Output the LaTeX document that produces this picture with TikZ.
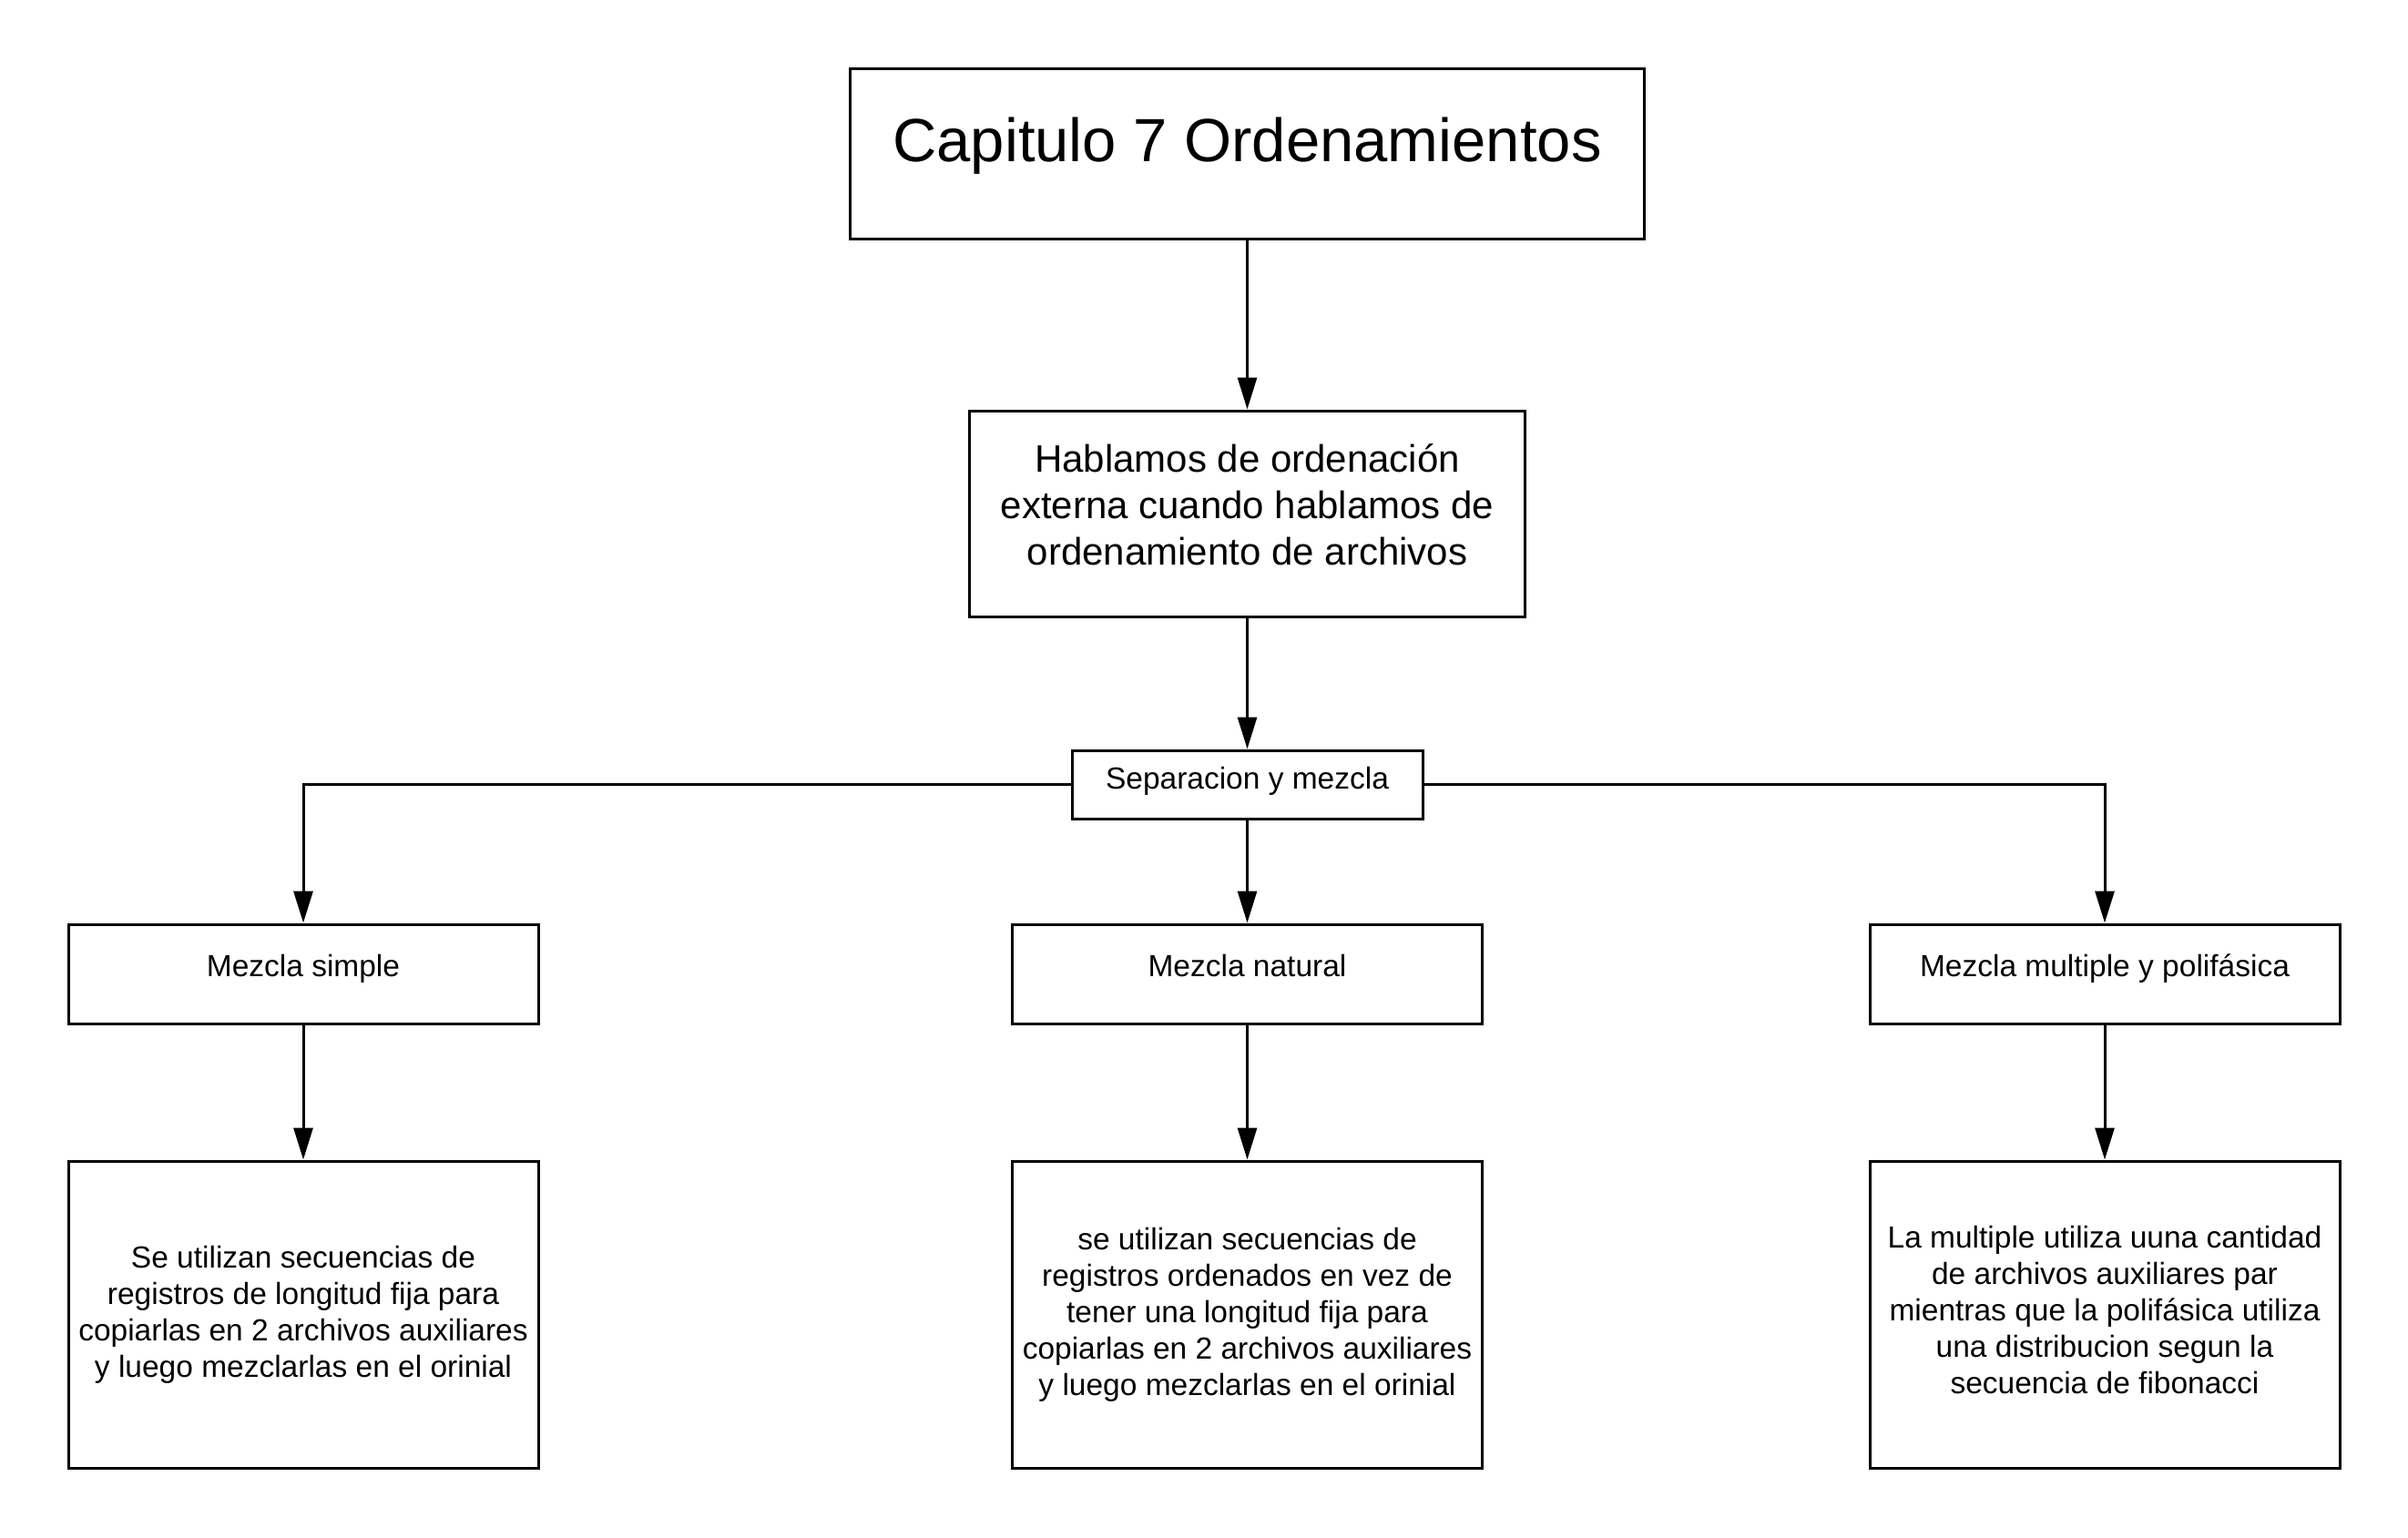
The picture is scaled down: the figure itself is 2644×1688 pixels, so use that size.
\documentclass[tikz,border=0pt]{standalone}
\usepackage{fontspec}
\setmainfont{Liberation Sans}
\usetikzlibrary{arrows.meta}
\begin{document}
\begin{tikzpicture}[x=0.5pt,y=-0.5pt,
  box/.style={draw=black,line width=1.5pt,fill=white,inner sep=0pt,align=center,text=black},
  oneline/.style={text height=0.75em,text depth=0.42em},
  titlefont/.style={font=\fontsize{33.5}{40}\selectfont},
  midfont/.style={font=\fontsize{21}{25.4}\selectfont},
  smallfont/.style={font=\fontsize{16.75}{20}\selectfont},
  arr/.style={draw=black,line width=1.5pt,-{Triangle[length=17.5pt,width=10.5pt]}}
]
\fill[white] (0,0) rectangle (2644,1688);
\useasboundingbox (0,0) rectangle (2644,1688);

\node[box,text height=0.85em,text depth=0em,titlefont,minimum width=436pt,minimum height=93.5pt] (T) at (1369.5,168.5) {Capitulo 7 Ordenamientos};
\node[box,midfont,minimum width=305pt,minimum height=113pt] (H) at (1369.5,564) {Hablamos de ordenación\\externa cuando hablamos de\\ordenamiento de archivos\\[-15.4pt]\mbox{}};
\node[box,oneline,text depth=0.22em,smallfont,minimum width=192.5pt,minimum height=37.5pt] (S) at (1369.5,861.5) {Separacion y mezcla};

\node[box,oneline,smallfont,minimum width=258pt,minimum height=54.5pt] (M1) at (333,1069.5) {Mezcla simple};
\node[box,oneline,smallfont,minimum width=258pt,minimum height=54.5pt] (M2) at (1369.5,1069.5) {Mezcla natural};
\node[box,oneline,smallfont,minimum width=258pt,minimum height=54.5pt] (M3) at (2311,1069.5) {Mezcla multiple y polifásica};

\node[box,smallfont,minimum width=258pt,minimum height=168.5pt] (B1) at (333,1443.5) {Se utilizan secuencias de\\registros de longitud fija para\\copiarlas en 2 archivos auxiliares\\y luego mezclarlas en el orinial};
\node[box,smallfont,minimum width=258pt,minimum height=168.5pt] (B2) at (1369.5,1443.5) {se utilizan secuencias de\\registros ordenados en vez de\\tener una longitud fija para\\copiarlas en 2 archivos auxiliares\\y luego mezclarlas en el orinial};
\node[box,smallfont,minimum width=258pt,minimum height=168.5pt] (B3) at (2311,1443.5) {La multiple utiliza uuna cantidad\\de archivos auxiliares par\\mientras que la polifásica utiliza\\una distribucion segun la\\secuencia de fibonacci\\[-15pt]\mbox{}};

\draw[arr] (T.south) -- (H.north);
\draw[arr] (H.south) -- (S.north);
\draw[arr] (S.south) -- (M2.north);
\draw[arr] (S.west) -| (M1.north);
\draw[arr] (S.east) -| (M3.north);
\draw[arr] (M1.south) -- (B1.north);
\draw[arr] (M2.south) -- (B2.north);
\draw[arr] (M3.south) -- (B3.north);
\end{tikzpicture}
\end{document}
